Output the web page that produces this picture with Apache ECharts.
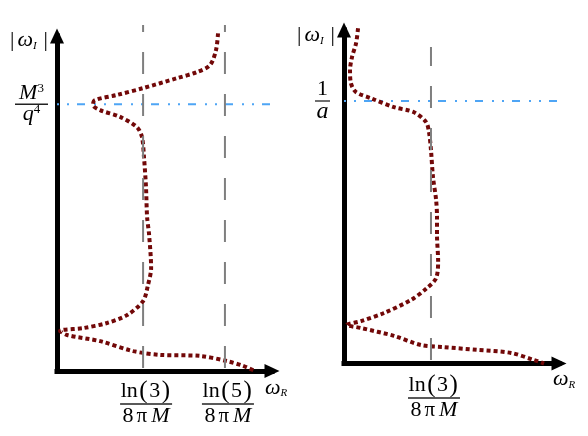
<!DOCTYPE html>
<html><head><meta charset="utf-8">
<script src="https://cdn.jsdelivr.net/npm/echarts@6/dist/echarts.min.js"></script>
<style>html,body{margin:0;padding:0;background:#fff}#c{width:588px;height:436px}</style>
</head><body><div id="c"></div>
<script>
// ---- data (arbitrary schematic units: % of axis length) ----
const leftCurve = [
 [72.2,98.5],[71.3,93.6],[68.6,89.2],[62.8,87.2],[53.8,85.4],[38.6,82.5],[26.9,80.5],[17.0,79.0],[16.1,77.6],[19.3,76.1],
 [28.3,74.1],[35.9,71.1],[38.1,68.2],[39.0,62.4],[39.9,53.6],[40.4,44.9],[41.3,39.7],[42.2,30.0],[40.8,25.1],[38.6,20.4],
 [31.4,16.3],[22.4,14.0],[11.7,12.5],[1.3,11.7],[4.5,10.5],[19.3,8.7],[34.1,5.8],[46.2,4.7],[64.1,4.4],[76.2,2.9],[83.4,1.5],[88.8,0]
];
const rightCurve = [
 [6.3,98.2],[5.4,93.8],[3.6,89.8],[2.7,85.9],[3.1,82.1],[5.4,79.5],[12.1,77.7],[22.4,75.1],[31.4,73.6],[36.8,70.7],
 [38.1,67.8],[39.0,62.5],[39.9,54.6],[41.3,47.9],[41.7,42.9],[41.7,37.6],[42.2,30.0],[41.3,25.0],[37.2,22.1],[30.0,18.6],
 [17.9,14.8],[7.6,12.4],[1.3,11.3],[7.6,10.4],[22.4,8.1],[34.5,5.4],[44.8,4.8],[59.6,4.0],[74.9,3.1],[85.2,1.0],[89.7,0]
];
const leftMarkers = [38.6, 75.3];          // ln(3)/8πM , ln(5)/8πM
const leftMarkerNum = ['3', '5'];
const rightMarkers = [39.0];               // ln(3)/8πM
const rightMarkerNum = ['3'];
const leftDashSpan = [0.9, 100.9];
const rightDashSpan = [1.0, 92.7];
const leftLevel = 77.8;                    // M^3/q^4
const rightLevel = 76.9;                   // 1/a
const levelSpan = [0, 97.8];
const axisMaxX = 96.4, axisMaxY = 97.7;

const chart = echarts.init(document.getElementById('c'), null, {renderer:'canvas'});
const SF = '"Liberation Serif", serif';
const RED = '#720808', BLUE = '#4ea5f5', GRAY = '#7f7f7f';

function axisPair(g) {
  const line = {show:true, onZero:false, symbol:['none','triangle'], symbolSize:[14,15],
    lineStyle:{color:'#000', width:5, cap:'square'}};
  return {
    x:{gridIndex:g, type:'value', min:0, max:axisMaxX, axisLine:line, axisTick:{show:false}, axisLabel:{show:false}, splitLine:{show:false}},
    y:{gridIndex:g, type:'value', min:0, max:axisMaxY, axisLine:line, axisTick:{show:false}, axisLabel:{show:false}, splitLine:{show:false}}
  };
}
const a0 = axisPair(0), a1 = axisPair(1);
const series = [];
function addPanel(g, curve, markers, span, level) {
  series.push({type:'line', xAxisIndex:g, yAxisIndex:g, data:levelSpan.map(x=>[x, level]), symbol:'none', clip:false, z:2,
    lineStyle:{color:BLUE, width:2, type:[8,9,2,8,2,8], dashOffset:17}});
  series.push({type:'line', xAxisIndex:g, yAxisIndex:g, data:curve, smooth:0.3, symbol:'none', clip:false, z:3,
    lineStyle:{color:RED, width:4, type:[4,3], cap:'butt'}});
  markers.forEach(m => series.push({type:'line', xAxisIndex:g, yAxisIndex:g, data:span.map(y=>[m, y]), symbol:'none', clip:false, z:4,
    lineStyle:{color:GRAY, width:2, type:[22,20]}}));
}
addPanel(0, leftCurve, leftMarkers, leftDashSpan, leftLevel);
addPanel(1, rightCurve, rightMarkers, rightDashSpan, rightLevel);

chart.setOption({
  animation:false,
  backgroundColor:'#fff',
  grid:[{left:57, top:36, width:215, height:335}, {left:344, top:30, width:215, height:333.5}],
  xAxis:[a0.x, a1.x], yAxis:[a0.y, a1.y],
  series
});

// ---- labels (placed from axis coordinates) ----
const tk = (font, lh, extra) => Object.assign({font:font + ' ' + SF, fill:'#000', lineHeight:lh}, extra || {});
const rich = {
  r:tk('22px', 22),
  i:tk('italic 22px', 22),
  ia:tk('italic 24px', 22),
  p:tk('25px', 22, {padding:[0,1.5]}),
  pi:tk('21px', 22, {padding:[0,4,0,3]}),
  sup:tk('13px', 13, {verticalAlign:'top'}),
  sub:tk('italic 11px', 11, {verticalAlign:'bottom'}),
  w:tk('italic 22px', 24, {padding:[0,0,0,3]}),
  wr:tk('italic 22px', 22),
  bar:tk('22px', 24),
  bar2:tk('22px', 24, {padding:[0,0,0,7]})
};
function txt(x, y, text, align, va) {
  return {type:'text', x, y, silent:true, z:10,
    style:{text, rich, align, verticalAlign:va, fill:'#000', font:'22px ' + SF}};
}
function frac(cx, by, w, num, den, ng, dg) {
  return [txt(cx, by - ng, num, 'center', 'bottom'),
    {type:'rect', silent:true, z:10, shape:{x:cx - w/2, y:by - 0.65, width:w, height:1.3}, style:{fill:'#222'}},
    txt(cx, by + dg, den, 'center', 'top')];
}
const P = (g, x, y) => chart.convertToPixel({gridIndex:g}, [x, y]);
let els = [];
const den = '{r|8}{pi|π}{i|M}';
leftMarkers.forEach((m, k) => {
  const p = P(0, m, 0);
  els = els.concat(frac(p[0] + 3, p[1] + 33, 52, '{r|ln}{p|(}{r|' + leftMarkerNum[k] + '}{p|)}', den, 2, 1));
});
rightMarkers.forEach((m, k) => {
  const p = P(1, m, 0);
  els = els.concat(frac(p[0] + 3, p[1] + 34.5, 52, '{r|ln}{p|(}{r|' + rightMarkerNum[k] + '}{p|)}', den, 2, 1));
});
{
  const p = P(0, 0, leftLevel);
  els = els.concat(frac(p[0] - 25.5, p[1], 33, '{i|M}{sup|3}', '{i|q}{sup|4}', 0, -1));
  const q = P(1, 0, rightLevel);
  els = els.concat(frac(q[0] - 21.5, q[1], 15, '{r|1}', '{ia|a}', 0.5, 0));
}
[0, 1].forEach(g => {
  const top = P(g, 0, axisMaxY), end = P(g, axisMaxX, 0);
  els.push(txt(top[0] - 47, top[1] + (g ? 5 : 4), '{bar||}{w|ω}{sub|I}{bar2||}', 'left', 'middle'));
  els.push(txt(end[0] - (g ? 6 : 7), end[1] + (g ? 16 : 17), '{wr|ω}{sub|R}', 'left', 'middle'));
});
chart.setOption({graphic:{elements:els}});
</script></body></html>
